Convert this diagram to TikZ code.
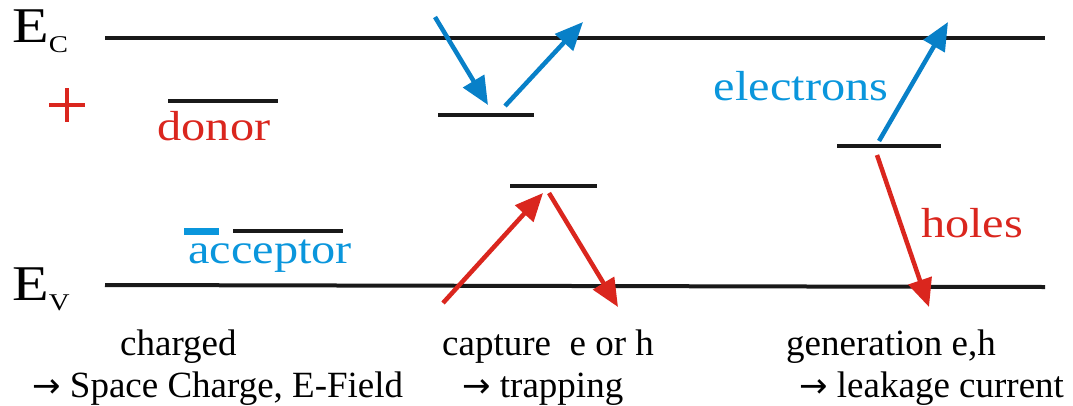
\documentclass[tikz,border=0pt]{standalone}
\usepackage{fontspec}
\newfontfamily\tnr{Liberation Serif}
\newfontfamily\dvs{DejaVu Sans}
\usetikzlibrary{arrows.meta}
\definecolor{eblue}{RGB}{8,128,200}
\definecolor{tblue}{RGB}{10,150,220}
\definecolor{hred}{RGB}{218,38,30}
\newcommand{\rarr}{{\dvs\fontsize{34}{40}\selectfont →}}
\tikzset{
  band/.style={line width=4pt, black!90},
  level/.style={line width=4.5pt, black!90},
  earrow/.style={line width=4.5pt, eblue, -{Triangle[length=28pt,width=24pt]}},
  harrow/.style={line width=4.5pt, hred, -{Triangle[length=28pt,width=24pt]}},
  lbl/.style={inner sep=0pt, anchor=base west, font=\tnr\fontsize{37}{40}\selectfont},
  clbl/.style={inner sep=0pt, anchor=base, xscale=1.15, font=\tnr\fontsize{42}{46}\selectfont},
  elbl/.style={inner sep=0pt, anchor=base west, xscale=1.2, font=\tnr\fontsize{50}{56}\selectfont}
}
\begin{document}
\begin{tikzpicture}[x=1pt,y=-1pt]
\useasboundingbox (0,0) rectangle (1073,405);
% band edges
\coordinate (ecL) at (105,38);
\coordinate (ecR) at (1045,38);
\coordinate (evL) at (105,285);
\coordinate (evR) at (1045,287);
\draw[band] (ecL) -- (ecR);
\draw[band] (evL) -- (evR);
\node[elbl] (EC) at (12,42) {E\raisebox{-0.2em}{\fontsize{24}{26}\selectfont C}};
\node[elbl] (EV) at (12,300) {E\raisebox{-0.2em}{\fontsize{24}{26}\selectfont V}};
% donor
\coordinate (dL) at (168,101);
\coordinate (dR) at (278,101);
\draw[level] (dL) -- (dR);
\node[clbl, text=hred] (donor) at (214,140) {donor};
\coordinate (pL) at (49,105);
\coordinate (pR) at (85,105);
\coordinate (pT) at (67,88);
\coordinate (pB) at (67,122);
\draw[hred, line width=3.5pt] (pL) -- (pR) (pT) -- (pB);
% acceptor
\coordinate (aL) at (233,231);
\coordinate (aR) at (343,231);
\draw[level] (aL) -- (aR);
\coordinate (mL) at (184,231);
\coordinate (mR) at (219,231);
\draw[tblue, line width=7pt] (mL) -- (mR);
\node[clbl, text=tblue] (acceptor) at (270,263) {acceptor};
% trapping levels
\coordinate (t1L) at (438,115);
\coordinate (t1R) at (534,115);
\draw[level] (t1L) -- (t1R);
\coordinate (t2L) at (510,186);
\coordinate (t2R) at (597,186);
\draw[level] (t2L) -- (t2R);
\coordinate (b1s) at (435,17);
\coordinate (b1e) at (488,105);
\coordinate (b2s) at (505,106);
\coordinate (b2e) at (583,22);
\draw[earrow] (b1s) -- (b1e);
\draw[earrow] (b2s) -- (b2e);
\coordinate (r1s) at (443,303);
\coordinate (r1e) at (543,193);
\coordinate (r2s) at (549,193);
\coordinate (r2e) at (618,307);
\draw[harrow] (r1s) -- (r1e);
\draw[harrow] (r2s) -- (r2e);
% generation
\coordinate (gL) at (837,146);
\coordinate (gR) at (941,146);
\draw[level] (gL) -- (gR);
\coordinate (b3s) at (879,141);
\coordinate (b3e) at (948,22);
\coordinate (r3s) at (877,155);
\coordinate (r3e) at (929,307);
\draw[earrow] (b3s) -- (b3e);
\draw[harrow] (r3s) -- (r3e);
\node[clbl, text=tblue] (electrons) at (801,100) {electrons};
\node[clbl, text=hred] (holes) at (972,237) {holes};
% bottom texts
\node[lbl] (charged) at (120,355) {charged};
\node[lbl] (space) at (32,397) {\rarr{} Space Charge, E-Field};
\node[lbl] (capture) at (442,355) {capture\ \ e or h};
\node[lbl] (trap) at (462,397) {\rarr{} trapping};
\node[lbl] (gen) at (786,355) {generation e,h};
\node[lbl] (leak) at (799,397) {\rarr{} leakage current};
\end{tikzpicture}
\end{document}
